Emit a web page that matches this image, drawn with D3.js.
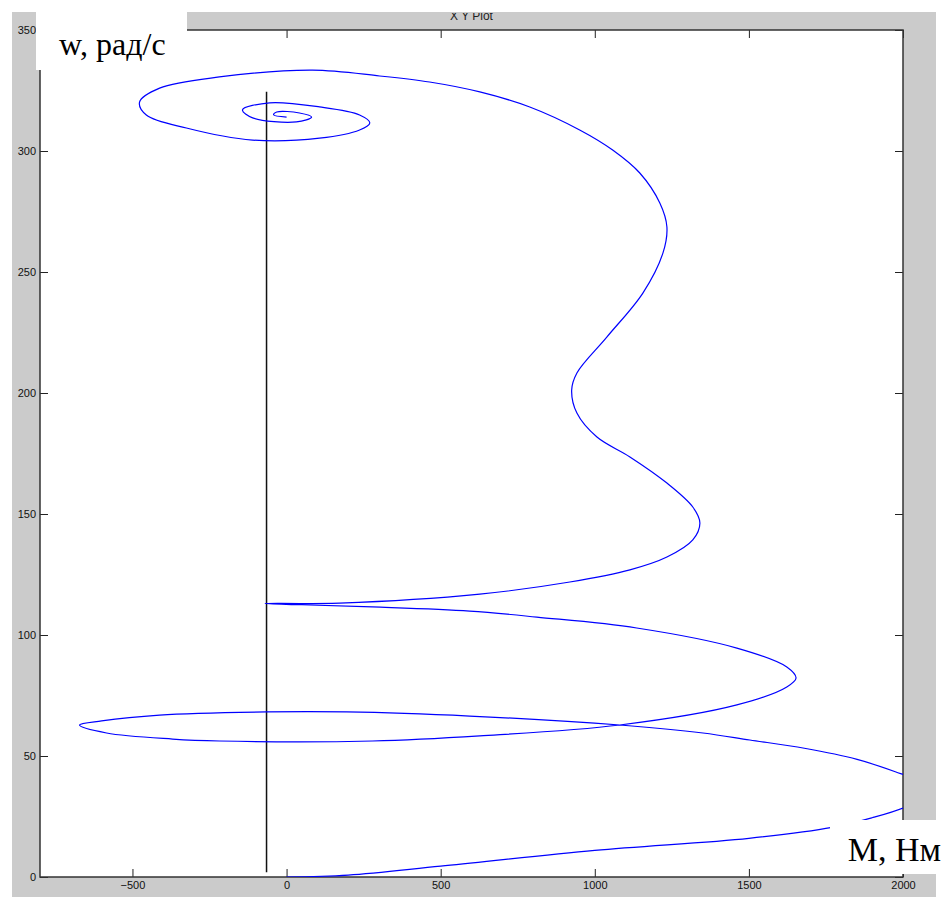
<!DOCTYPE html>
<html>
<head>
<meta charset="utf-8">
<script src="https://cdn.jsdelivr.net/npm/d3@7"></script>
<style>
  body { margin: 0; background: #fff; }
</style>
</head>
<body>
<div id="chart"></div>
<script>
'use strict'

// trajectory M (torque) vs w (speed)
var mValues = [0, 200, 500, 1000, 1500, 1770, 1900, 2000, 2060, 2075, 2045, 1975, 1851, 1680, 1503, 1351, 1081, 594, 195, -65, -412, -600, -672,
  -584, -370, -218, 279, 627, 1081, 1461, 1623, 1653, 1623, 1461, 1136, 812, 594, 279, 50, -70,
  172, 627, 919, 1114, 1234, 1318, 1341, 1318, 1234, 1114, 1007, 942, 925, 942, 1039, 1156, 1221, 1234, 1211,
  1146, 1058, 951, 789, 627, 464, 302, 84, -218, -412, -477, -455, -325, -110, 107, 237, 270, 237, 107, -55,
  -143, -110, 32, 81, 42, -32, -42, 0];
var wValues = [0, 0.8, 4.5, 11, 16, 20.5, 24.5, 28.5, 32.5, 36.5, 40, 43.5, 48.6, 53.2, 56.6, 59.5, 62.8, 66.5, 68.2, 68.2, 66.9, 64.5, 62.8,
  59.5, 57, 56.2, 56.2, 58.3, 62.8, 71.1, 78.5, 82.2, 86.8, 94.6, 102.9, 107.4, 109.9, 111.6, 112.5, 113,
  113.2, 116.9, 121.9, 126.9, 132.2, 139.3, 146.3, 152.9, 162.8, 173.6, 181.8, 191.7, 201.2, 208.3, 223.1, 241.3, 257.8, 268.6, 278.5,
  290.9, 300.4, 308.7, 318.2, 324.4, 328.5, 331, 333.4, 330.6, 326, 320.2, 314.9, 309.5, 304.5, 305.3, 308.7, 311.6, 314.9, 318.2, 319.9,
  317, 313.7, 312, 314, 315.7, 316.1, 314.9, 314];

// black vertical line
var lineM = [-65, -65];
var lineW = [2, 324.5];

var xTicks = [-500, 0, 500, 1000, 1500, 2000];
var yTicks = [0, 50, 100, 150, 200, 250, 300, 350];
var xDomain = [-800, 2000];
var yDomain = [0, 350];

var plotTitle = 'X Y Plot';
var yLabel = 'w, рад/с';
var xLabel = 'M, Нм';

var width = 947;
var height = 898;
var plotLeft = 40, plotRight = 903, plotTop = 30, plotBottom = 877;
var tickLen = 8;

var svg = d3.select('#chart').append('svg')
  .attr('width', width)
  .attr('height', height);

var defs = svg.append('defs');

defs.append('clipPath')
  .attr('id', 'plotClip')
  .append('rect')
    .attr('x', plotLeft).attr('y', plotTop)
    .attr('width', plotRight - plotLeft).attr('height', plotBottom - plotTop);

defs.append('clipPath')
  .attr('id', 'figClip')
  .append('rect')
    .attr('x', 0).attr('y', 13)
    .attr('width', width).attr('height', height - 13);

//grey figure background

svg.append('rect')
  .attr('x', 12).attr('y', 12)
  .attr('width', 924).attr('height', 885)
  .attr('fill', '#cbcbcb');

svg.append('text')
  .attr('x', (plotLeft + plotRight) / 2)
  .attr('y', 19.5)
  .attr('clip-path', 'url(#figClip)')
  .attr('text-anchor', 'middle')
  .attr('font-family', 'Liberation Sans, Arial, sans-serif')
  .attr('font-size', 12)
  .attr('fill', '#222')
  .text(plotTitle);

//white plot area

svg.append('rect')
  .attr('x', plotLeft).attr('y', plotTop)
  .attr('width', plotRight - plotLeft).attr('height', plotBottom - plotTop)
  .attr('fill', '#fff');

var xScale = d3.scaleLinear().domain(xDomain).range([plotLeft, plotRight]);
var yScale = d3.scaleLinear().domain(yDomain).range([plotBottom, plotTop]);

//axes with inward ticks on all four sides

var axisStyle = function(g){
  g.select('.domain').remove();
  g.selectAll('line').attr('stroke', '#222');
  g.selectAll('text')
    .attr('font-family', 'Liberation Sans, Arial, sans-serif')
    .attr('font-size', 11)
    .attr('fill', '#111');
};

svg.append('g')
  .attr('transform', 'translate(0,' + plotBottom + ')')
  .call(d3.axisBottom(xScale).tickValues(xTicks).tickFormat(d3.format('d'))
    .tickSizeInner(-tickLen).tickSizeOuter(0).tickPadding(4))
  .call(axisStyle);

svg.append('g')
  .attr('transform', 'translate(0,' + plotTop + ')')
  .call(d3.axisTop(xScale).tickValues(xTicks).tickSizeInner(-tickLen).tickSizeOuter(0).tickFormat(''))
  .call(axisStyle);

svg.append('g')
  .attr('transform', 'translate(' + plotLeft + ',0)')
  .call(d3.axisLeft(yScale).tickValues(yTicks).tickFormat(d3.format('d'))
    .tickSizeInner(-tickLen).tickSizeOuter(0).tickPadding(4))
  .call(axisStyle);

svg.append('g')
  .attr('transform', 'translate(' + plotRight + ',0)')
  .call(d3.axisRight(yScale).tickValues(yTicks).tickSizeInner(-tickLen).tickSizeOuter(0).tickFormat(''))
  .call(axisStyle);

svg.append('rect')
  .attr('x', plotLeft).attr('y', plotTop)
  .attr('width', plotRight - plotLeft).attr('height', plotBottom - plotTop)
  .attr('fill', 'none')
  .attr('stroke', '#333')
  .attr('stroke-width', 1.5);

//curves

var plot = svg.append('g').attr('clip-path', 'url(#plotClip)');

var line = d3.line()
  .x(function(d){return xScale(d[0]);})
  .y(function(d){return yScale(d[1]);});

plot.append('path')
  .datum(lineM.map(function(m, i){return [m, lineW[i]];}))
  .attr('d', line)
  .attr('fill', 'none')
  .attr('stroke', '#111')
  .attr('stroke-width', 1.5);

plot.append('path')
  .datum(mValues.map(function(m, i){return [m, wValues[i]];}))
  .attr('d', line.curve(d3.curveCatmullRom.alpha(0.5)))
  .attr('fill', 'none')
  .attr('stroke', '#0000ff')
  .attr('stroke-width', 1.2);

//white label boxes

svg.append('rect')
  .attr('x', 36).attr('y', 0)
  .attr('width', 151).attr('height', 70)
  .attr('fill', '#fff');

svg.append('text')
  .attr('x', 59).attr('y', 55)
  .attr('font-family', 'Liberation Serif, Times New Roman, serif')
  .attr('font-size', 32)
  .attr('fill', '#000')
  .text(yLabel);

svg.append('rect')
  .attr('x', 830).attr('y', 820)
  .attr('width', 117).attr('height', 54)
  .attr('fill', '#fff');

svg.append('text')
  .attr('x', 941).attr('y', 861)
  .attr('text-anchor', 'end')
  .attr('font-family', 'Liberation Serif, Times New Roman, serif')
  .attr('font-size', 34)
  .attr('fill', '#000')
  .text(xLabel);
</script>
</body>
</html>
